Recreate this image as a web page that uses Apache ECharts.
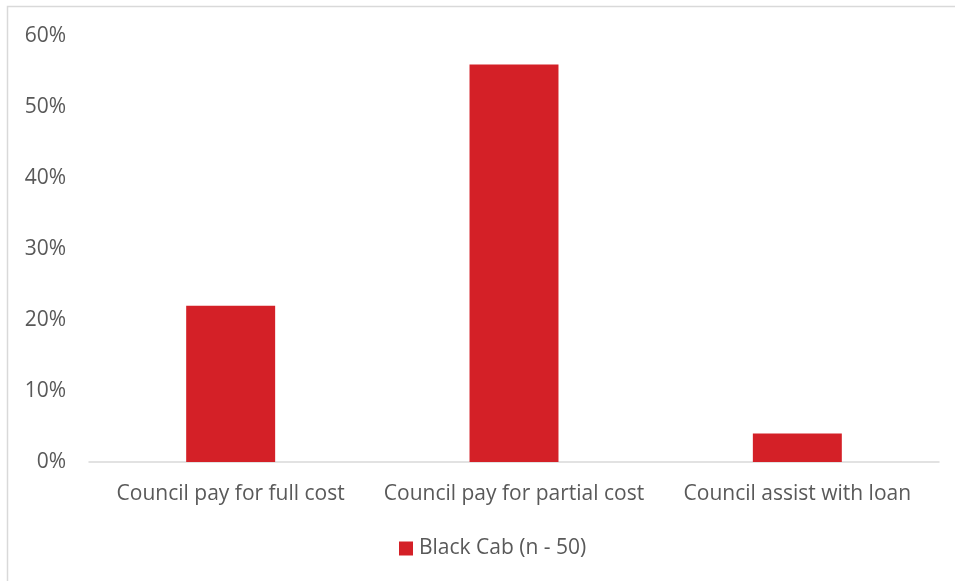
<!DOCTYPE html>
<html>
<head>
<meta charset="utf-8">
<script src="https://cdn.jsdelivr.net/npm/echarts@6/dist/echarts.min.js"></script>
<style>html,body{margin:0;padding:0;background:#fff;}#c{width:955px;height:581px;}</style>
</head>
<body>
<div id="c"></div>
<script>
const categories = ['Council pay for full cost', 'Council pay for partial cost', 'Council assist with loan'];
const seriesName = 'Black Cab (n - 50)';
const values = [0.22, 0.56, 0.04];
const yTicks = { min: 0, max: 0.6, interval: 0.1 };

const FONT = '"Open Sans", "Noto Sans", sans-serif';
const chart = echarts.init(document.getElementById('c'));
chart.setOption({
  animation: false,
  backgroundColor: '#fff',
  graphic: [{
    type: 'rect', silent: true,
    shape: { x: 7.5, y: 6.5, width: 2000, height: 2000 },
    style: { fill: 'none', stroke: '#d9d9d9', lineWidth: 1.5 }
  }],
  grid: { left: 89, right: 16, top: 36, bottom: 119, containLabel: false },
  legend: {
    left: 394, top: 533,
    itemWidth: 14, itemHeight: 14, itemGap: 10,
    icon: 'rect',
    textStyle: { fontFamily: FONT, fontSize: 21, color: '#595959', padding: [0, 0, 0, 1] },
    data: [seriesName]
  },
  xAxis: {
    type: 'category',
    data: categories,
    axisLine: { lineStyle: { color: '#d9d9d9', width: 1.5 } },
    axisTick: { show: false },
    axisLabel: { fontFamily: FONT, fontSize: 21, color: '#595959', margin: 22, interval: 0 }
  },
  yAxis: {
    type: 'value',
    min: yTicks.min, max: yTicks.max, interval: yTicks.interval,
    axisLine: { show: false },
    axisTick: { show: false },
    splitLine: { show: false },
    axisLabel: {
      fontFamily: FONT, fontSize: 21, color: '#595959', margin: 23,
      padding: [3, 0, 0, 0],
      formatter: v => Math.round(v * 100) + '%'
    }
  },
  series: [{
    name: seriesName,
    type: 'bar',
    data: values,
    barWidth: '31.4%',
    itemStyle: { color: '#d42027' }
  }]
});
</script>
</body>
</html>
